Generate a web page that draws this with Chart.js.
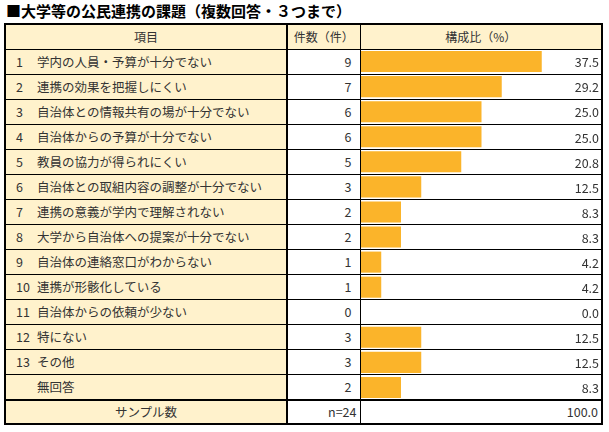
<!DOCTYPE html>
<html>
<head>
<meta charset="utf-8">
<script src="https://cdn.jsdelivr.net/npm/chart.js@4"></script>
<style>
  body { margin: 0; background: #fff; font-family: "Noto Sans CJK JP", sans-serif; color: #333; }
  #title { position: absolute; left: 6px; top: 0px; font-size: 15px; font-weight: bold; color: #000; }
  table { position: absolute; left: 4px; top: 23px; border-collapse: collapse; table-layout: fixed; border: 2px solid #000; font-size: 12.5px; }
  td { border: 1px solid #000; height: 24px; padding: 0; line-height: 24px; white-space: nowrap; overflow: hidden; }
  td.item { background: #fff2cc; border-right: 2px solid #000; padding-left: 10px; }
  td.num { text-align: right; padding-right: 8px; background: #fff; }
  td.bar { background: #fff; }
  tr.head td { background: #fff2cc; text-align: center; padding: 0; font-size: 12px; }
  tr.head td.item { border-right: 2px solid #000; }
  tr.total td { border-top: 2px solid #000; height: 22px; line-height: 22px; }
  tr.total td.item { text-align: center; padding: 0; }
  tr.total td.num { padding-right: 3px; }
  tr.total td.bar { text-align: right; padding-right: 3px; }
  .no { display: inline-block; width: 21px; }
  #wrap { position: absolute; left: 361px; top: 49px; width: 241px; height: 351px; }
</style>
</head>
<body>
<div id="title">■大学等の公民連携の課題（複数回答・３つまで）</div>
<table id="tbl">
  <colgroup><col style="width:282px"><col style="width:73px"><col style="width:242px"></colgroup>
  <tbody id="body"></tbody>
</table>
<div id="wrap"><canvas id="chart"></canvas></div>
<script>
const itemNos = ["1", "2", "3", "4", "5", "6", "7", "8", "9", "10", "11", "12", "13", ""];
const items = [
  "学内の人員・予算が十分でない",
  "連携の効果を把握しにくい",
  "自治体との情報共有の場が十分でない",
  "自治体からの予算が十分でない",
  "教員の協力が得られにくい",
  "自治体との取組内容の調整が十分でない",
  "連携の意義が学内で理解されない",
  "大学から自治体への提案が十分でない",
  "自治体の連絡窓口がわからない",
  "連携が形骸化している",
  "自治体からの依頼が少ない",
  "特にない",
  "その他",
  "無回答"
];
const counts = [9, 7, 6, 6, 5, 3, 2, 2, 1, 1, 0, 3, 3, 2];
const shares = [37.5, 29.2, 25.0, 25.0, 20.8, 12.5, 8.3, 8.3, 4.2, 4.2, 0.0, 12.5, 12.5, 8.3];
const sampleLabel = "サンプル数";
const sampleN = "n=24";
const sampleShare = 100.0;

const body = document.getElementById("body");
let html = '<tr class="head"><td class="item">項目</td><td>件数（件）</td><td>構成比（%）</td></tr>';
items.forEach((name, i) => {
  html += `<tr><td class="item"><span class="no">${itemNos[i]}</span>${name}</td>` +
    `<td class="num">${counts[i]}</td><td class="bar"></td></tr>`;
});
html += `<tr class="total"><td class="item">${sampleLabel}</td><td class="num">${sampleN}</td>` +
  `<td class="bar">${sampleShare.toFixed(1)}</td></tr>`;
body.innerHTML = html;

// percent labels at the right edge of each bar row
const valueLabels = {
  id: "valueLabels",
  afterDatasetsDraw(chart) {
    const ctx = chart.ctx;
    const meta = chart.getDatasetMeta(0);
    ctx.save();
    ctx.font = '12.5px "Noto Sans CJK JP"';
    ctx.fillStyle = "#333";
    ctx.textAlign = "right";
    ctx.textBaseline = "middle";
    meta.data.forEach((bar, i) => {
      ctx.fillText(shares[i].toFixed(1), chart.chartArea.right - 3, bar.y + 1);
    });
    ctx.restore();
  }
};

new Chart(document.getElementById("chart"), {
  type: "bar",
  data: {
    labels: items,
    datasets: [{
      data: shares,
      backgroundColor: "#fbb42a",
      borderWidth: 0,
      barPercentage: 0.84,
      categoryPercentage: 1
    }]
  },
  options: {
    indexAxis: "y",
    responsive: true,
    maintainAspectRatio: false,
    animation: false,
    layout: { padding: 0 },
    scales: {
      x: { display: false, min: 0, max: 50 },
      y: { display: false }
    },
    plugins: { legend: { display: false }, tooltip: { enabled: false } }
  },
  plugins: [valueLabels]
});
</script>
</body>
</html>
